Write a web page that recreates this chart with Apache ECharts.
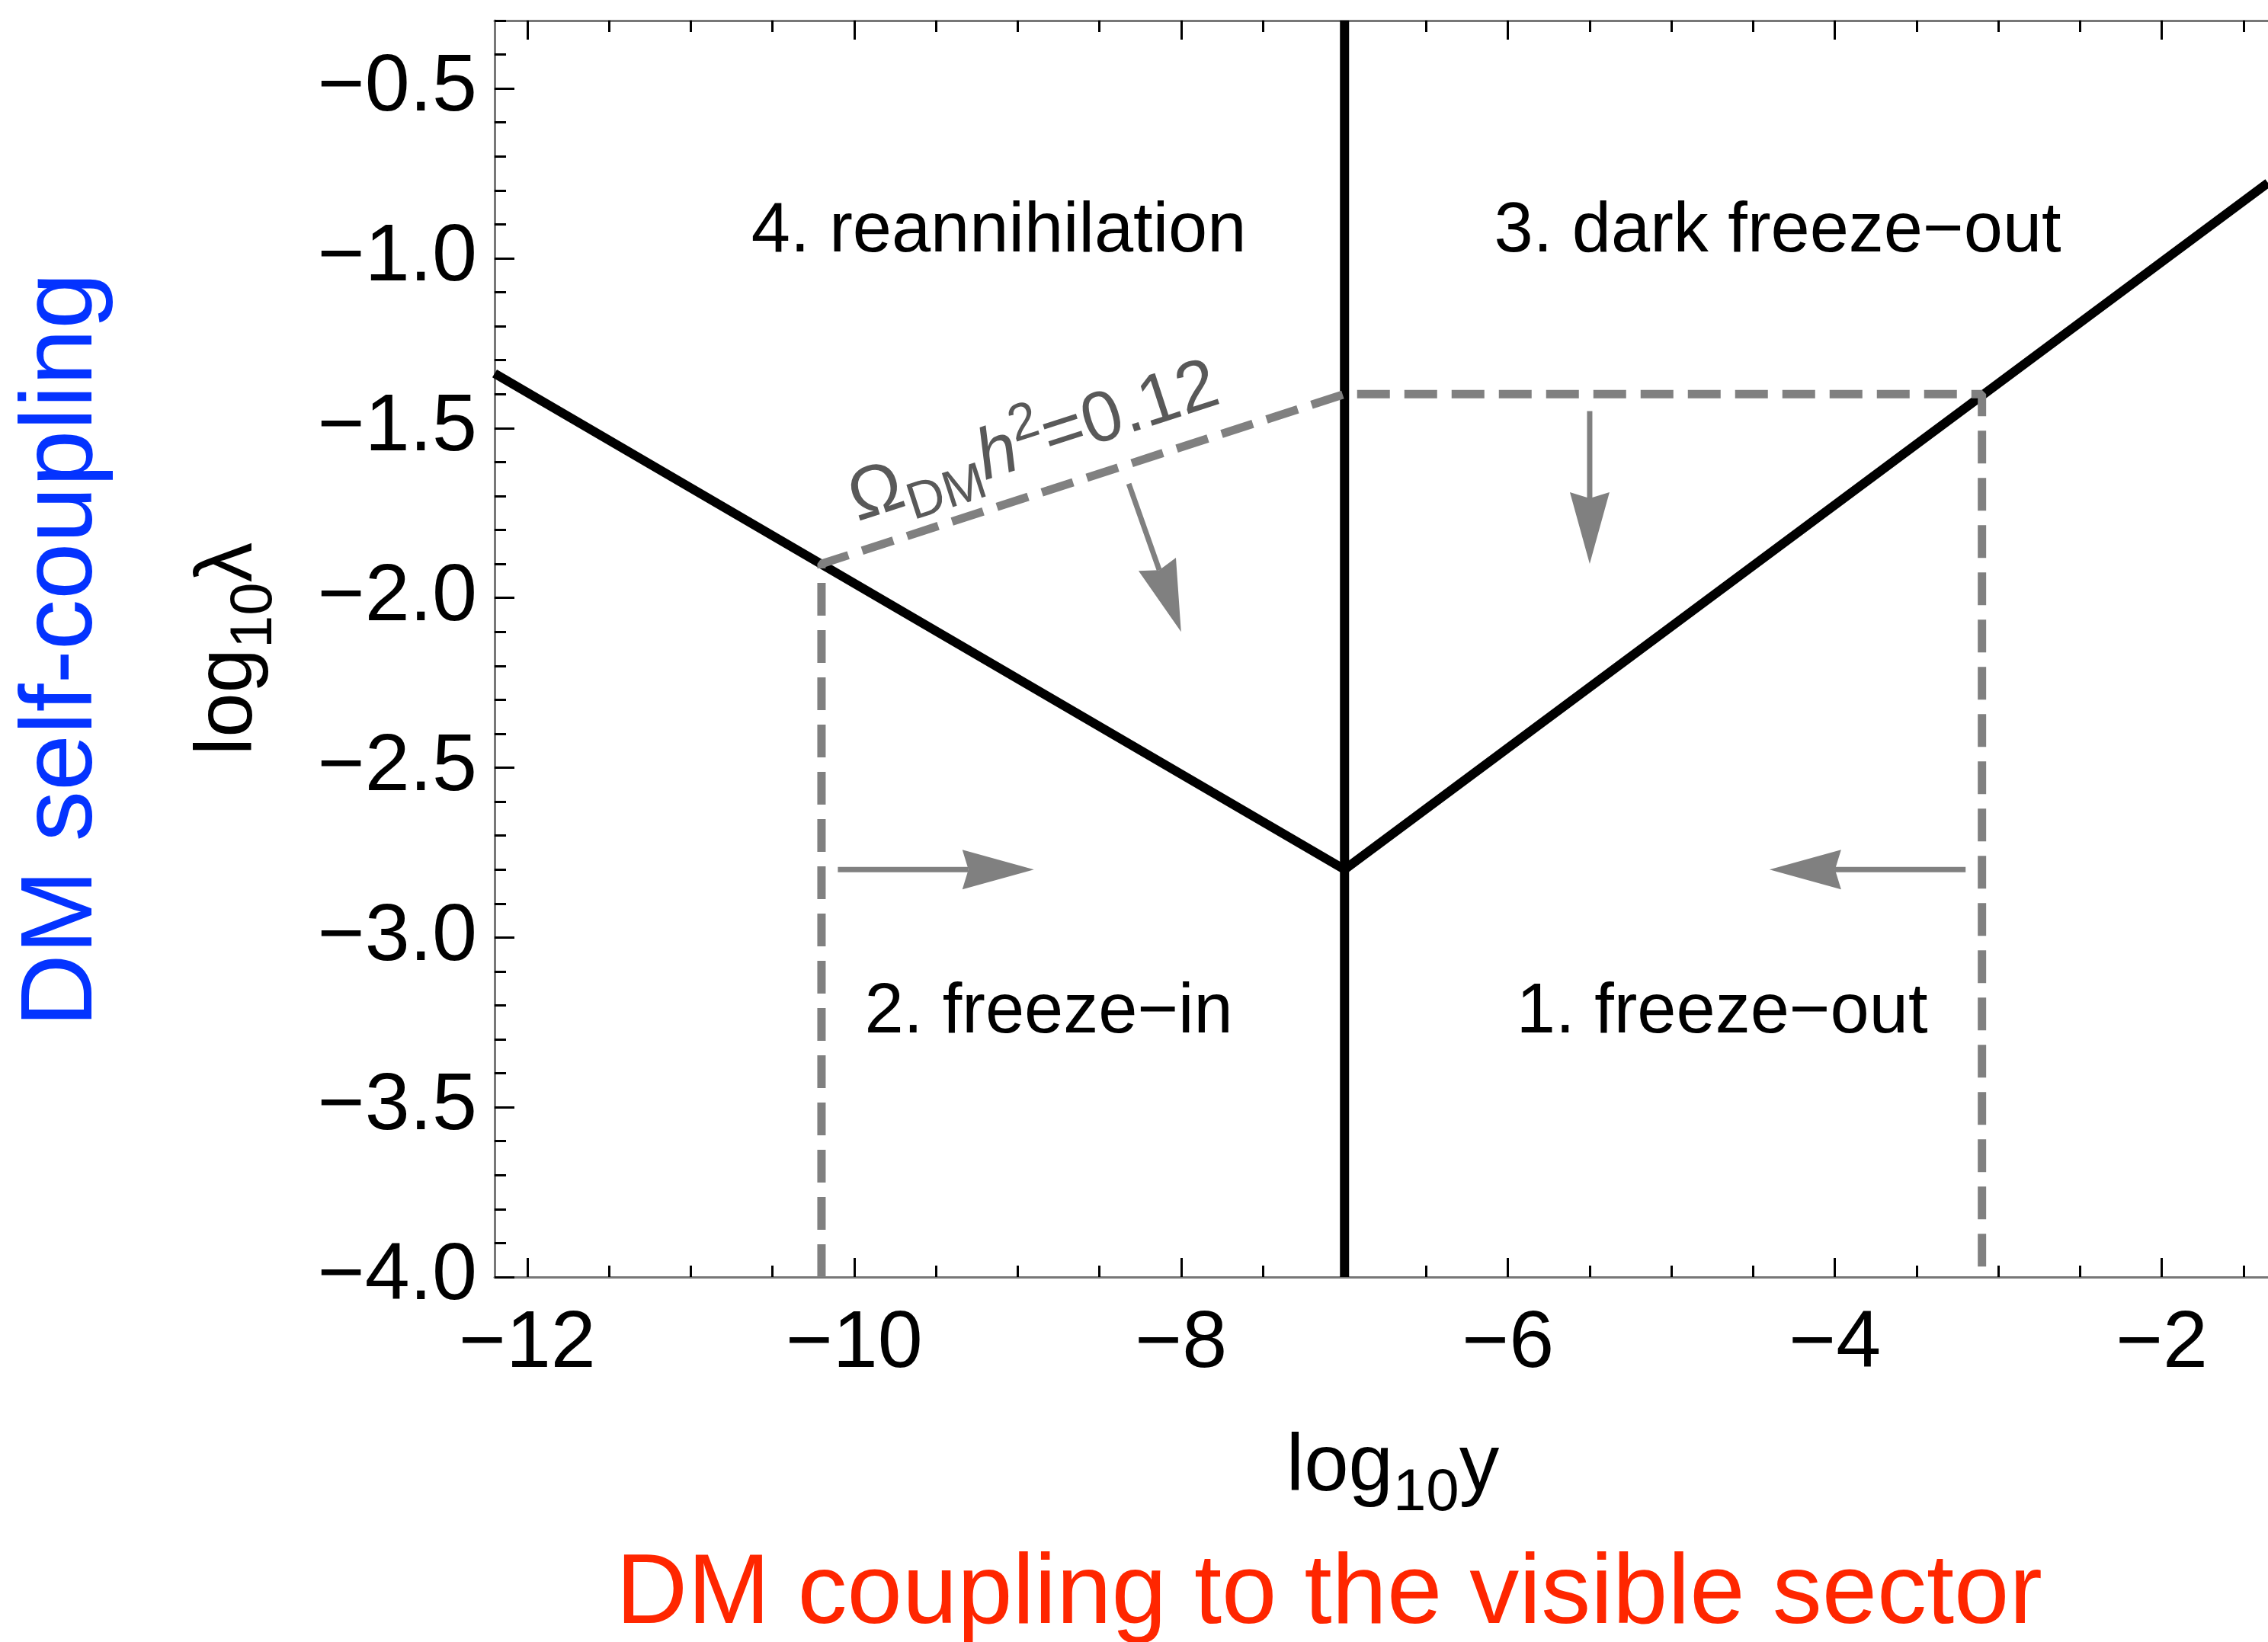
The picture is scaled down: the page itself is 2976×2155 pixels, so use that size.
<!DOCTYPE html>
<html>
<head>
<meta charset="utf-8">
<title>DM production regimes</title>
<script src="https://cdn.jsdelivr.net/npm/echarts@6/dist/echarts.min.js"></script>
<style>
  html, body { margin: 0; padding: 0; background: #fff; }
  #chart { width: 2976px; height: 2155px; }
</style>
</head>
<body>
<div id="chart"></div>
<script>
// plot range: log10 y on x, log10 lambda on y
const xMin = -12.2
const xMax = -1.35
const yMin = -4.0
const yMax = -0.3

// tick labels
const xTicks = [-12, -10, -8, -6, -4, -2]
const yTicks = [-4.0, -3.5, -3.0, -2.5, -2.0, -1.5, -1.0, -0.5]
// minor ticks
const xMinorTicks = [-11.5, -11, -10.5, -9.5, -9, -8.5, -7.5, -7, -6.5, -5.5, -5, -4.5, -3.5, -3, -2.5, -1.5]
const yMinorTicks = [-3.9, -3.8, -3.7, -3.6, -3.4, -3.3, -3.2, -3.1, -2.9, -2.8, -2.7, -2.6,
  -2.4, -2.3, -2.2, -2.1, -1.9, -1.8, -1.7, -1.6, -1.4, -1.3, -1.2, -1.1, -0.9, -0.8, -0.7, -0.6, -0.4, -0.3]

// black boundaries between the four regimes
const leftBoundary = [[-12.2, -1.339], [-7, -2.8]]
const rightBoundary = [[-7, -2.8], [-1.35, -0.778]]
const splitBoundary = [[-7, -4.0], [-7, -0.3]]

// relic abundance contour (dashed)
const relicContour = [[-10.2, -4.0], [-10.2, -1.9], [-7, -1.4], [-3.1, -1.4], [-3.1, -4.0]]

// arrows: [x0, y0, x1, y1], head at (x1, y1)
const arrows = [
  [-10.1, -2.8, -8.9, -2.8],
  [-3.2, -2.8, -4.4, -2.8],
  [-5.5, -1.45, -5.5, -1.9],
  [-8.32, -1.664, -8.0, -2.1]
]

// regime names and where they sit
const regionNames = ['4. reannihilation', '3. dark freeze−out', '2. freeze−in', '1. freeze−out']
const regionPos = [[-9.115, -0.922], [-4.35, -0.922], [-8.81, -3.222], [-4.69, -3.222]]

// contour label
const relicLabelPos = [-8.9, -1.545]

const FONT = '"Liberation Sans", Arial, sans-serif'

function fmt(v, digits) {
  return v.toFixed(digits).replace('-', '−')
}

function xAxisCfg(position, values, len, withLine, withLabel) {
  return {
    type: 'value',
    position: position,
    min: xMin,
    max: xMax,
    axisLine: { show: withLine, lineStyle: { color: '#777', width: 3 } },
    axisTick: { show: true, inside: true, length: len, customValues: values, lineStyle: { color: '#000', width: 3 } },
    axisLabel: {
      show: withLabel,
      customValues: values,
      margin: 36,
      fontSize: 106,
      fontFamily: FONT,
      color: '#000',
      formatter: v => fmt(v, 0)
    },
    splitLine: { show: false }
  }
}

function yAxisCfg(values, len, withLine, withLabel) {
  return {
    type: 'value',
    position: 'left',
    min: yMin,
    max: yMax,
    axisLine: { show: withLine, lineStyle: { color: '#777', width: 3 } },
    axisTick: { show: true, inside: true, length: len, customValues: values, lineStyle: { color: '#000', width: 3 } },
    axisLabel: {
      show: withLabel,
      customValues: values,
      margin: 23,
      fontSize: 106,
      fontFamily: FONT,
      color: '#000',
      formatter: v => fmt(v, 1)
    },
    splitLine: { show: false }
  }
}

const subRich = {
  m: { fontSize: 105, lineHeight: 143, fontFamily: FONT, color: '#000' },
  s: { fontSize: 78, lineHeight: 78, verticalAlign: 'bottom', fontFamily: FONT, color: '#000' }
}

const xMain = xAxisCfg('bottom', xTicks, 25, true, true)
xMain.name = '{m|log}{s|10}{m|y}'
xMain.nameLocation = 'middle'
xMain.nameGap = 180
xMain.nameTextStyle = { rich: subRich, padding: [0, 0, 0, 30] }

const yMain = yAxisCfg(yTicks, 26, true, true)
yMain.name = '{m|log}{s|10}{m|λ}'
yMain.nameLocation = 'middle'
yMain.nameRotate = 90
yMain.nameGap = 276
yMain.nameTextStyle = { rich: subRich }

// invisible anchor points for the text labels (scatter default opacity is 0.8, labels follow it)
const hidden = { color: 'rgba(0,0,0,0)', opacity: 1 }

const chart = echarts.init(document.getElementById('chart'))
chart.setOption({
  animation: false,
  backgroundColor: '#fff',
  grid: { left: 649, right: 0, top: 27, bottom: 479 },
  xAxis: [
    xMain,
    xAxisCfg('bottom', xMinorTicks, 15, false, false),
    xAxisCfg('top', xTicks, 25, true, false),
    xAxisCfg('top', xMinorTicks, 15, false, false)
  ],
  yAxis: [
    yMain,
    yAxisCfg(yMinorTicks, 15, false, false)
  ],
  graphic: [
    {
      type: 'text',
      x: 83,
      y: 853,
      rotation: Math.PI / 2,
      style: {
        text: 'DM self-coupling',
        fill: '#0433ff',
        fontSize: 133,
        fontFamily: FONT,
        align: 'center',
        verticalAlign: 'middle'
      }
    },
    {
      type: 'text',
      x: 1744,
      y: 2094,
      style: {
        text: 'DM coupling to the visible sector',
        fill: '#ff2600',
        fontSize: 130,
        fontFamily: FONT,
        align: 'center',
        verticalAlign: 'middle'
      }
    }
  ],
  series: [
    {
      type: 'line',
      data: leftBoundary,
      symbol: 'none',
      lineStyle: { color: '#000', width: 12 }
    },
    {
      type: 'line',
      data: rightBoundary,
      symbol: 'none',
      lineStyle: { color: '#000', width: 12 }
    },
    {
      type: 'line',
      data: splitBoundary,
      symbol: 'none',
      lineStyle: { color: '#000', width: 12 }
    },
    {
      type: 'line',
      data: relicContour,
      symbol: 'none',
      lineStyle: { color: '#808080', width: 11, type: [43, 19], cap: 'butt' }
    },
    {
      type: 'custom',
      data: arrows,
      encode: { x: [0, 2], y: [1, 3] },
      renderItem: function (params, api) {
        const p0 = api.coord([api.value(0), api.value(1)])
        const p1 = api.coord([api.value(2), api.value(3)])
        const dx = p1[0] - p0[0]
        const dy = p1[1] - p0[1]
        const len = Math.sqrt(dx * dx + dy * dy)
        const ux = dx / len
        const uy = dy / len
        const nx = -uy
        const ny = ux
        const headLen = 94
        const headW = 26
        const notch = 8
        const bx = p1[0] - ux * headLen
        const by = p1[1] - uy * headLen
        const mx = bx + ux * notch
        const my = by + uy * notch
        return {
          type: 'group',
          children: [
            {
              type: 'line',
              shape: { x1: p0[0], y1: p0[1], x2: mx, y2: my },
              style: { stroke: '#808080', lineWidth: 7 }
            },
            {
              type: 'polygon',
              shape: { points: [[p1[0], p1[1]], [bx + nx * headW, by + ny * headW], [mx, my], [bx - nx * headW, by - ny * headW]] },
              style: { fill: '#808080' }
            }
          ]
        }
      }
    },
    {
      type: 'scatter',
      symbolSize: 1,
      itemStyle: hidden,
      data: regionNames.map((n, i) => ({ name: n, value: regionPos[i] })),
      label: {
        show: true,
        position: 'inside',
        formatter: '{b}',
        fontSize: 92,
        fontFamily: FONT,
        color: '#000'
      }
    },
    {
      type: 'scatter',
      symbolSize: 1,
      itemStyle: hidden,
      data: [relicLabelPos],
      label: {
        show: true,
        position: 'inside',
        rotate: 18,
        formatter: '{m|Ω}{s|DM}{i|h}{p|2}{m|=0.12}',
        rich: {
          m: { fontSize: 94, lineHeight: 124, fontFamily: FONT, color: '#595959' },
          i: { fontSize: 94, lineHeight: 124, fontFamily: FONT, fontStyle: 'italic', color: '#595959' },
          s: { fontSize: 68, lineHeight: 68, verticalAlign: 'bottom', fontFamily: FONT, color: '#595959' },
          p: { fontSize: 68, lineHeight: 68, verticalAlign: 'top', fontFamily: FONT, color: '#595959' }
        }
      }
    }
  ]
})
</script>
</body>
</html>
